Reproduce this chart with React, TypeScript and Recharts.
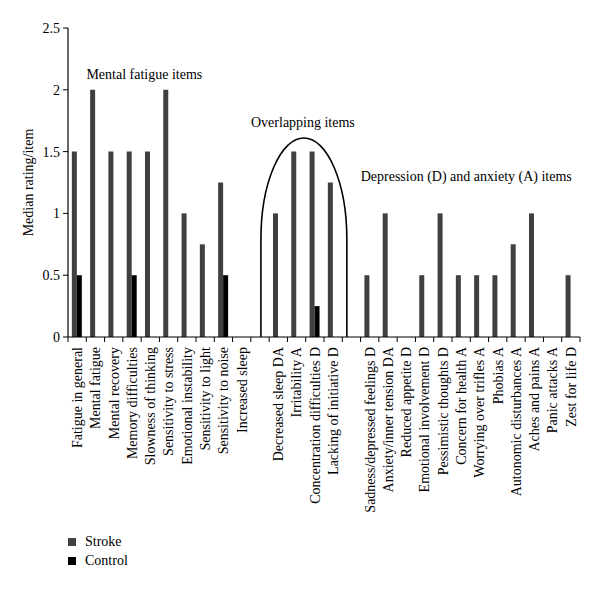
import React from "react";
import {
  BarChart,
  Bar,
  XAxis,
  YAxis,
  Legend,
  Label,
  ReferenceArea,
  ReferenceDot,
} from "recharts";

// item labels, "gap1"/"gap2" are empty spacer slots between the groups
const ITEMS = [
  "Fatigue in general",
  "Mental fatigue",
  "Mental recovery",
  "Memory difficulties",
  "Slowness of thinking",
  "Sensitivity to stress",
  "Emotional instability",
  "Sensitivity to light",
  "Sensitivity to noise",
  "Increased sleep",
  "gap1",
  "Decreased sleep DA",
  "Irritability A",
  "Concentration difficulties D",
  "Lacking of initiative D",
  "gap2",
  "Sadness/depressed feelings D",
  "Anxiety/inner tension DA",
  "Reduced appetite D",
  "Emotional involvement D",
  "Pessimistic thoughts D",
  "Concern for health A",
  "Worrying over trifles A",
  "Phobias A",
  "Autonomic disturbances A",
  "Aches and pains A",
  "Panic attacks A",
  "Zest for life D",
];

const STROKE = [
  1.5, 2, 1.5, 1.5, 1.5, 2, 1, 0.75, 1.25, 0,
  null,
  1, 1.5, 1.5, 1.25,
  null,
  0.5, 1, 0, 0.5, 1, 0.5, 0.5, 0.5, 0.75, 1, 0, 0.5,
];

const CONTROL = [
  0.5, 0, 0, 0.5, 0, 0, 0, 0, 0.5, 0,
  null,
  0, 0, 0.25, 0,
  null,
  0, 0, 0, 0, 0, 0, 0, 0, 0, 0, 0, 0,
];

const Y_TICKS = [0, 0.5, 1, 1.5, 2, 2.5];

const GROUP_NOTES = [
  { at: "Mental fatigue", y: 2.13, text: "Mental fatigue items" },
  { at: "gap1", y: 1.74, text: "Overlapping items" },
  { at: "Sadness/depressed feelings D", y: 1.3, text: "Depression (D) and anxiety (A) items" },
];

const data = ITEMS.map((item, i) => ({
  item,
  stroke: STROKE[i],
  control: CONTROL[i],
}));

const FONT = "'Liberation Serif', 'DejaVu Serif', serif";
const STROKE_COLOR = "#404040";
const CONTROL_COLOR = "#000000";

function ItemTick(props: any) {
  const { x, y, payload, index } = props;
  const half = payload.offset ?? 9.14;
  const label = String(payload.value).startsWith("gap") ? "" : payload.value;
  const isLast = index === ITEMS.length - 1;
  return (
    <g>
      <line x1={x - half} x2={x - half} y1={y} y2={y + 5} stroke="#000" />
      {isLast && <line x1={x + half} x2={x + half} y1={y} y2={y + 5} stroke="#000" />}
      <text
        transform={`translate(${x},${y + 10}) rotate(-90)`}
        textAnchor="end"
        dy="0.35em"
        fontFamily={FONT}
        fontSize={14}
        fill="#000"
      >
        {label}
      </text>
    </g>
  );
}

// hand-drawn style loop around the overlapping items
function OverlapLoop(props: any) {
  const { x, y, width, height } = props;
  const bw = width / 6;
  const left = x + bw * 0.55;
  const right = x + width - bw * 0.75;
  const bottom = y + height;
  const cy = bottom - height * 0.49;
  const rx = (right - left) / 2;
  const ry = cy - y;
  const d = `M${left},${bottom} L${left},${cy} A${rx},${ry} 0 0 1 ${right},${cy} L${right},${bottom}`;
  return <path d={d} fill="none" stroke="#000" strokeWidth={1.6} />;
}

function NoteLabel({ text }: { text: string }) {
  return (props: any) => {
    const { viewBox } = props;
    return (
      <text
        x={viewBox.x - 9}
        y={viewBox.y}
        dy="0.35em"
        textAnchor="start"
        fontFamily={FONT}
        fontSize={14}
        fill="#000"
      >
        {text}
      </text>
    );
  };
}

function LegendBox() {
  const rows = [
    { name: "Stroke", color: STROKE_COLOR },
    { name: "Control", color: CONTROL_COLOR },
  ];
  return (
    <div style={{ height: 40, fontFamily: FONT, fontSize: 14, color: "#000" }}>
      {rows.map((r) => (
        <div key={r.name} style={{ display: "flex", alignItems: "center", height: 19 }}>
          <span
            style={{ display: "inline-block", width: 8, height: 8, background: r.color, marginRight: 9 }}
          />
          {r.name}
        </div>
      ))}
    </div>
  );
}

export default function App() {
  return (
    <div style={{ width: 600, height: 589, background: "#fff" }}>
      <style>{"body{margin:0}"}</style>
      <BarChart
        width={600}
        height={589}
        data={data}
        margin={{ top: 28, right: 20, left: 0, bottom: 10 }}
        barCategoryGap="21%"
        barGap={0}
      >
        <XAxis
          dataKey="item"
          interval={0}
          tickSize={0}
          tickMargin={0}
          tickLine={false}
          tick={<ItemTick />}
          height={202}
          axisLine={{ stroke: "#000", strokeWidth: 1.2 }}
        />
        <YAxis
          width={68}
          domain={[0, 2.5]}
          ticks={Y_TICKS}
          tickSize={5}
          tickMargin={3}
          axisLine={{ stroke: "#000", strokeWidth: 1.2 }}
          tickLine={{ stroke: "#000" }}
          tick={{ fontFamily: FONT, fontSize: 14, fill: "#000" }}
        >
          <Label
            content={(p: any) => (
              <text
                transform={`translate(${p.viewBox.x + 28},${p.viewBox.y + p.viewBox.height / 2}) rotate(-90)`}
                textAnchor="middle"
                dy="0.35em"
                fontFamily={FONT}
                fontSize={14}
                fill="#000"
              >
                Median rating/item
              </text>
            )}
          />
        </YAxis>
        <Legend
          verticalAlign="bottom"
          align="left"
          wrapperStyle={{ left: 68, top: 532 }}
          content={() => <LegendBox />}
        />
        <Bar dataKey="stroke" name="Stroke" fill={STROKE_COLOR} isAnimationActive={false} />
        <Bar dataKey="control" name="Control" fill={CONTROL_COLOR} isAnimationActive={false} />
        <ReferenceArea
          x1="gap1"
          x2="gap2"
          y1={0}
          y2={1.61}
          shape={<OverlapLoop />}
        />
        {GROUP_NOTES.map((n) => (
          <ReferenceDot
            key={n.text}
            x={n.at}
            y={n.y}
            r={0}
            fill="none"
            stroke="none"
            label={NoteLabel({ text: n.text })}
          />
        ))}
      </BarChart>
    </div>
  );
}
